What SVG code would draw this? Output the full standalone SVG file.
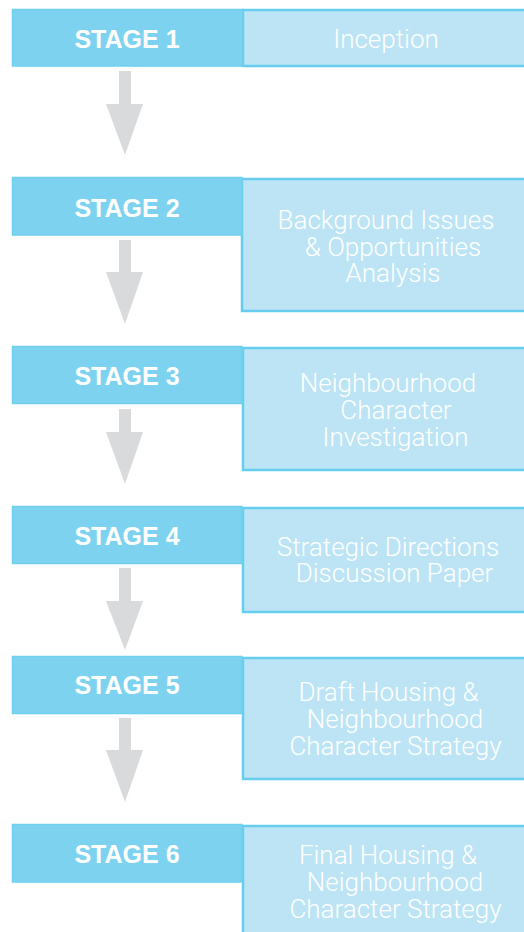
<svg xmlns="http://www.w3.org/2000/svg" width="524" height="932" viewBox="0 0 524 932">
<style>
.stage{fill:#7dd3ef;stroke:#6fcfee;stroke-width:1.5}
.desc{fill:#bce4f5;stroke:#66cdef;stroke-width:2.5}
.lbl{font-family:"Liberation Sans",Arial,sans-serif;font-weight:bold;font-size:25px;fill:#ffffff;text-anchor:middle}
.dtx{font-family:Roboto,"Liberation Sans",Arial,sans-serif;font-weight:300;font-size:26px;fill:#ffffff;text-anchor:middle}
.arr{fill:#d9dadc}
</style>
<rect x="0" y="0" width="524" height="932" fill="#ffffff"/>
<g id="connectors">
<path class="arr" d="M119,71 H131 V104 H143 L125,155 L106,104 H119 Z"/>
<path class="arr" d="M119,240 H131 V272 H143 L125,324 L106,272 H119 Z"/>
<path class="arr" d="M119,409 H131 V432 H143 L125,484 L106,432 H119 Z"/>
<path class="arr" d="M119,568 H131 V601 H143 L125,650 L106,601 H119 Z"/>
<path class="arr" d="M119,718 H131 V750 H143 L125,802 L106,750 H119 Z"/>
</g>
<g id="stage1">
<rect class="desc" x="243" y="10" width="285" height="56"/>
<rect class="stage" x="12.5" y="9.5" width="230" height="56.5"/>
<text class="lbl" x="127" y="48">STAGE 1</text>
<text class="dtx" x="386" y="48">Inception</text>
</g>
<g id="stage2">
<rect class="desc" x="242" y="179" width="286" height="132"/>
<rect class="stage" x="12.5" y="177.5" width="229.5" height="57.5"/>
<text class="lbl" x="127" y="217">STAGE 2</text>
<text class="dtx" x="386" y="229">Background Issues</text>
<text class="dtx" x="393" y="256">&amp; Opportunities</text>
<text class="dtx" x="393" y="282">Analysis</text>
</g>
<g id="stage3">
<rect class="desc" x="243" y="348" width="285" height="122"/>
<rect class="stage" x="12.5" y="346.5" width="229.5" height="57"/>
<text class="lbl" x="127" y="385">STAGE 3</text>
<text class="dtx" x="388" y="392">Neighbourhood</text>
<text class="dtx" x="396" y="419">Character</text>
<text class="dtx" x="395.5" y="446">Investigation</text>
</g>
<g id="stage4">
<rect class="desc" x="243" y="508" width="285" height="104"/>
<rect class="stage" x="12.5" y="506.5" width="229.5" height="57"/>
<text class="lbl" x="127" y="545">STAGE 4</text>
<text class="dtx" x="388" y="556">Strategic Directions</text>
<text class="dtx" x="394.5" y="582">Discussion Paper</text>
</g>
<g id="stage5">
<rect class="desc" x="243" y="658" width="285" height="121"/>
<rect class="stage" x="12.5" y="656.5" width="229.5" height="57"/>
<text class="lbl" x="127" y="694">STAGE 5</text>
<text class="dtx" x="388.5" y="701">Draft Housing &amp;</text>
<text class="dtx" x="395" y="728">Neighbourhood</text>
<text class="dtx" x="395.5" y="755">Character Strategy</text>
</g>
<g id="stage6">
<rect class="desc" x="243" y="826" width="285" height="110"/>
<rect class="stage" x="12.5" y="824.5" width="229.5" height="57.5"/>
<text class="lbl" x="127" y="863">STAGE 6</text>
<text class="dtx" x="388" y="864">Final Housing &amp;</text>
<text class="dtx" x="395" y="891">Neighbourhood</text>
<text class="dtx" x="395.5" y="918">Character Strategy</text>
</g>
</svg>
